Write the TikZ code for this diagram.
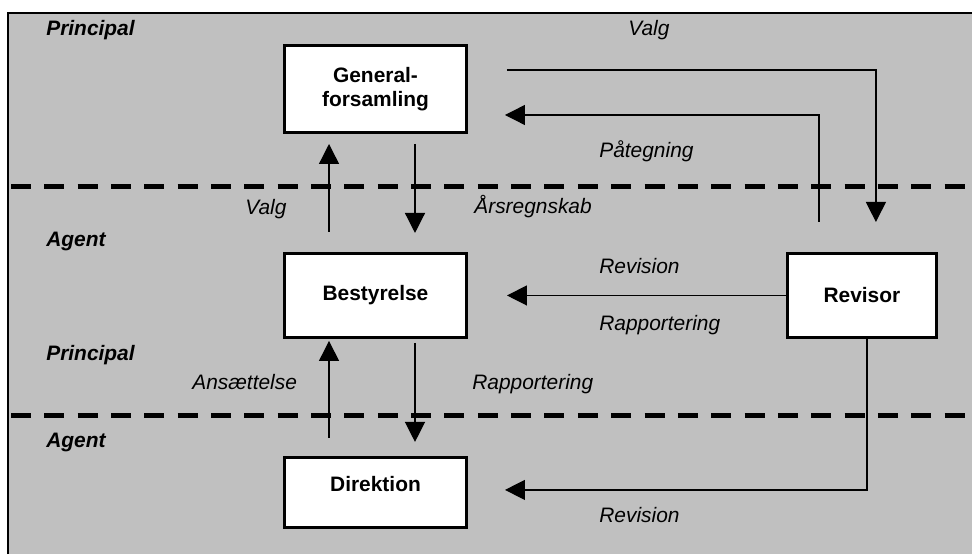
\documentclass[tikz,border=0pt]{standalone}
\usepackage{fontspec}
\setmainfont{Liberation Sans}
\usepackage{tikz}
\usetikzlibrary{positioning, arrows.meta}
\definecolor{panelgray}{RGB}{192,192,192}
\newcommand{\diafont}{\fontsize{11.9}{13.7}\selectfont}

\begin{document}
\begin{tikzpicture}[x=0.02cm, y=-0.02cm,
    box/.style={draw, fill=white, line width=0.06cm, align=center,
      minimum width=3.64cm, font=\diafont\bfseries},
    lbl/.style={anchor=base west, inner sep=0pt, font=\diafont\itshape},
    role/.style={anchor=base west, inner sep=0pt,
      font=\diafont\bfseries\itshape},
    arr/.style={-{Triangle[length=0.4cm, width=0.4cm]}, line width=0.026cm},
    split/.style={line width=0.1cm, dash pattern=on 0.4cm off 0.267cm}
  ]
  \useasboundingbox (0,0) rectangle (972,554);
  \fill[panelgray] (8,13) rectangle (972,554);
  \draw[line width=0.04cm] (8,554) -- (8,13) -- (972,13);
  \draw[split] (11,186) -- (972,186);
  \draw[split] (11,415) -- (972,415);

  \node[box, minimum height=1.74cm] (gf) at (375.5,89) {General-\\forsamling};
  \node[box, minimum height=1.68cm, below=2.36cm of gf] (best) {Bestyrelse};
  \node[box, minimum height=1.4cm, text depth=0.34cm, below=2.34cm of best] (dir) {Direktion};
  \node[box, minimum width=2.98cm, minimum height=1.68cm, right=6.36cm of best] (rev) {Revisor};

  \node[role] (prin1) at (46,36) {Principal};
  \node[role] (agt1) at (46,246) {Agent};
  \node[role] (prin2) at (46,360) {Principal};
  \node[role] (agt2) at (46,447) {Agent};

  \node[lbl] (valg1) at (628,36) {Valg};
  \node[lbl] (pateg) at (599,157) {Påtegning};
  \node[lbl] (aars) at (474,213) {Årsregnskab};
  \node[lbl] (valg2) at (245,214) {Valg};
  \node[lbl] (rev1) at (599,273) {Revision};
  \node[lbl] (rapp1) at (599,330) {Rapportering};
  \node[lbl] (ans) at (192,389) {Ansættelse};
  \node[lbl] (rapp2) at (472,389) {Rapportering};
  \node[lbl] (rev2) at (599,522) {Revision};

  \draw[arr] ([xshift=-0.93cm, yshift=0.4cm]best.north) -- ([xshift=-0.93cm, yshift=-0.2cm]gf.south);
  \draw[arr] ([xshift=0.79cm, yshift=-0.2cm]gf.south) -- ([xshift=0.79cm, yshift=0.38cm]best.north);
  \draw[arr] ([xshift=-0.93cm, yshift=0.36cm]dir.north) -- ([xshift=-0.93cm, yshift=-0.04cm]best.south);
  \draw[arr] ([xshift=0.79cm, yshift=-0.08cm]best.south) -- ([xshift=0.79cm, yshift=0.28cm]dir.north);
  \draw[arr] ([xshift=0.78cm, yshift=0.38cm]gf.east) -| ([xshift=0.28cm, yshift=0.6cm]rev.north);
  \draw[arr] ([xshift=-0.86cm, yshift=0.6cm]rev.north) |- ([xshift=0.74cm, yshift=-0.52cm]gf.east);
  \draw[arr] (rev.west) -- ([xshift=0.78cm]best.east);
  \draw[arr] ([xshift=0.1cm]rev.south) |- ([xshift=0.74cm, yshift=0.05cm]dir.east);
\end{tikzpicture}
\end{document}
